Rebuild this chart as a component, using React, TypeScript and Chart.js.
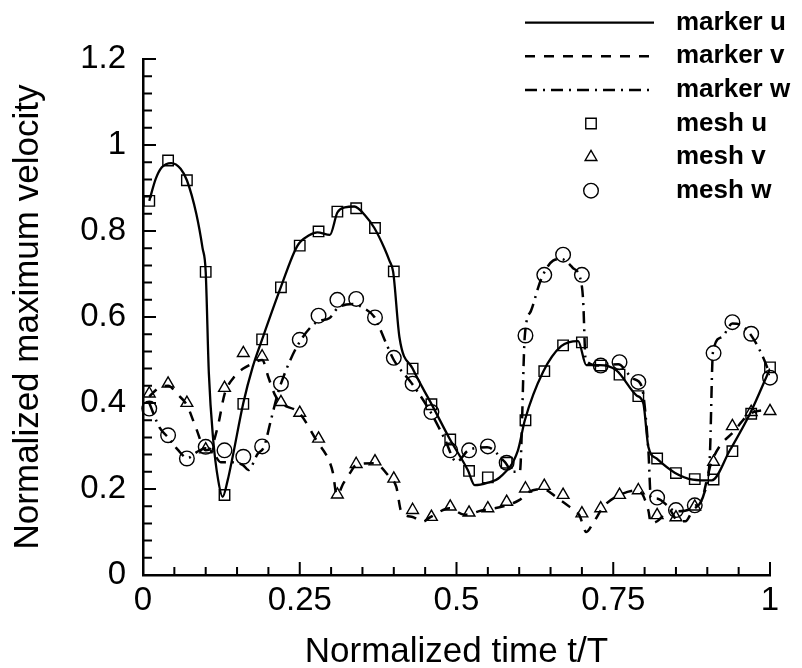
import React, { useEffect, useRef } from 'react';
import { Chart, registerables } from 'chart.js';

Chart.register(...registerables);

// ---- tick values / labels ----
const xMajorTicks = [0, 0.25, 0.5, 0.75, 1];
const xMinorTicks = [0.05, 0.1, 0.15, 0.2, 0.3, 0.35, 0.4, 0.45, 0.55, 0.6, 0.65, 0.7, 0.8, 0.85, 0.9, 0.95];
const xTickLabels = ['0', '0.25', '0.5', '0.75', '1'];
const yMajorTicks = [0, 0.2, 0.4, 0.6, 0.8, 1.0, 1.2];
const yMinorTicks = [0.04, 0.08, 0.12, 0.16, 0.24, 0.28, 0.32, 0.36, 0.44, 0.48, 0.52, 0.56, 0.64, 0.68, 0.72, 0.76, 0.84, 0.88, 0.92, 0.96, 1.04, 1.08, 1.12, 1.16];
const yTickLabels = ['0', '0.2', '0.4', '0.6', '0.8', '1', '1.2'];

// ---- mesh samples ----
const meshT = [0.01, 0.04, 0.07, 0.10, 0.13, 0.16, 0.19, 0.22, 0.25, 0.28, 0.31, 0.34, 0.37, 0.40, 0.43, 0.46, 0.49, 0.52, 0.55, 0.58, 0.61, 0.64, 0.67, 0.70, 0.73, 0.76, 0.79, 0.82, 0.85, 0.88, 0.91, 0.94, 0.97, 1.00];
const meshU = [0.870, 0.964, 0.918, 0.705, 0.186, 0.398, 0.548, 0.669, 0.766, 0.799, 0.845, 0.853, 0.807, 0.706, 0.480, 0.397, 0.315, 0.242, 0.227, 0.261, 0.360, 0.474, 0.534, 0.541, 0.487, 0.466, 0.416, 0.271, 0.237, 0.223, 0.222, 0.288, 0.375, 0.483];
const meshV = [0.422, 0.445, 0.400, 0.292, 0.435, 0.516, 0.508, 0.402, 0.377, 0.317, 0.187, 0.258, 0.264, 0.224, 0.151, 0.135, 0.159, 0.145, 0.155, 0.170, 0.201, 0.207, 0.186, 0.143, 0.155, 0.186, 0.197, 0.139, 0.134, 0.159, 0.263, 0.346, 0.379, 0.381];
const meshW = [0.387, 0.325, 0.271, 0.298, 0.290, 0.275, 0.299, 0.445, 0.547, 0.603, 0.640, 0.642, 0.599, 0.505, 0.445, 0.379, 0.290, 0.290, 0.299, 0.261, 0.557, 0.698, 0.745, 0.698, 0.487, 0.495, 0.449, 0.180, 0.151, 0.162, 0.516, 0.588, 0.561, 0.459];

// ---- marker curves ----
const markerUT = [0.010, 0.020, 0.030, 0.045, 0.060, 0.070, 0.085, 0.095, 0.100, 0.105, 0.112, 0.120, 0.127, 0.135, 0.143, 0.160, 0.175, 0.190, 0.220, 0.246, 0.265, 0.278, 0.298, 0.310, 0.322, 0.337, 0.355, 0.369, 0.385, 0.393, 0.399, 0.409, 0.430, 0.460, 0.489, 0.518, 0.529, 0.550, 0.569, 0.598, 0.609, 0.638, 0.667, 0.694, 0.707, 0.728, 0.755, 0.787, 0.798, 0.806, 0.819, 0.848, 0.877, 0.907, 0.936, 0.968, 1.000];
const markerUY = [0.870, 0.920, 0.948, 0.958, 0.945, 0.918, 0.840, 0.760, 0.705, 0.470, 0.314, 0.220, 0.182, 0.220, 0.275, 0.400, 0.484, 0.548, 0.670, 0.765, 0.790, 0.797, 0.791, 0.843, 0.855, 0.857, 0.835, 0.807, 0.760, 0.731, 0.705, 0.553, 0.480, 0.398, 0.317, 0.244, 0.209, 0.215, 0.227, 0.290, 0.360, 0.472, 0.532, 0.544, 0.488, 0.488, 0.476, 0.418, 0.399, 0.298, 0.271, 0.238, 0.222, 0.220, 0.290, 0.375, 0.480];

const markerVT = [0.010, 0.025, 0.040, 0.055, 0.070, 0.085, 0.100, 0.110, 0.120, 0.130, 0.145, 0.160, 0.175, 0.190, 0.200, 0.210, 0.220, 0.249, 0.278, 0.297, 0.303, 0.309, 0.320, 0.330, 0.340, 0.369, 0.393, 0.404, 0.412, 0.430, 0.446, 0.459, 0.489, 0.513, 0.540, 0.575, 0.600, 0.614, 0.638, 0.660, 0.680, 0.696, 0.707, 0.718, 0.735, 0.760, 0.790, 0.806, 0.810, 0.820, 0.840, 0.853, 0.865, 0.877, 0.891, 0.905, 0.920, 0.940, 0.968, 1.000];
const markerVY = [0.415, 0.435, 0.440, 0.420, 0.395, 0.340, 0.290, 0.300, 0.350, 0.420, 0.460, 0.480, 0.492, 0.500, 0.460, 0.420, 0.400, 0.377, 0.310, 0.265, 0.237, 0.186, 0.214, 0.237, 0.256, 0.260, 0.228, 0.205, 0.147, 0.135, 0.124, 0.135, 0.155, 0.140, 0.150, 0.160, 0.174, 0.192, 0.200, 0.180, 0.159, 0.139, 0.100, 0.121, 0.160, 0.186, 0.197, 0.150, 0.120, 0.125, 0.150, 0.125, 0.125, 0.151, 0.174, 0.255, 0.300, 0.330, 0.375, 0.385];

const markerWT = [0.010, 0.026, 0.040, 0.055, 0.071, 0.085, 0.100, 0.112, 0.124, 0.143, 0.160, 0.168, 0.183, 0.193, 0.204, 0.215, 0.228, 0.249, 0.278, 0.297, 0.310, 0.335, 0.353, 0.369, 0.388, 0.400, 0.429, 0.457, 0.481, 0.500, 0.519, 0.549, 0.577, 0.590, 0.601, 0.609, 0.619, 0.635, 0.654, 0.667, 0.685, 0.699, 0.702, 0.706, 0.728, 0.758, 0.782, 0.795, 0.806, 0.810, 0.819, 0.851, 0.880, 0.895, 0.904, 0.909, 0.923, 0.940, 0.955, 0.971, 0.990, 1.000];
const markerWY = [0.400, 0.344, 0.320, 0.292, 0.272, 0.285, 0.295, 0.285, 0.262, 0.262, 0.255, 0.244, 0.282, 0.298, 0.360, 0.422, 0.476, 0.540, 0.589, 0.597, 0.620, 0.630, 0.620, 0.600, 0.538, 0.500, 0.445, 0.383, 0.317, 0.263, 0.290, 0.297, 0.263, 0.240, 0.240, 0.557, 0.615, 0.688, 0.731, 0.735, 0.715, 0.680, 0.638, 0.500, 0.487, 0.490, 0.456, 0.440, 0.290, 0.180, 0.178, 0.148, 0.160, 0.190, 0.275, 0.518, 0.553, 0.585, 0.580, 0.555, 0.503, 0.465];

const seriesLabels = ['marker u', 'marker v', 'marker w', 'mesh u', 'mesh v', 'mesh w'];

const FONT = '"Liberation Sans", Arial, Helvetica, sans-serif';

const zip = (xs: number[], ys: number[]) => xs.map((x, i) => ({ x, y: ys[i] }));

function drawMarker(ctx: CanvasRenderingContext2D, style: string, x: number, y: number, r: number) {
  ctx.beginPath();
  if (style === 'rect') {
    const s = Math.SQRT1_2 * r;
    ctx.rect(x - s, y - s, 2 * s, 2 * s);
  } else if (style === 'triangle') {
    ctx.moveTo(x, y - r);
    ctx.lineTo(x + r * Math.sin((2 * Math.PI) / 3), y - r * Math.cos((2 * Math.PI) / 3));
    ctx.lineTo(x + r * Math.sin((4 * Math.PI) / 3), y - r * Math.cos((4 * Math.PI) / 3));
    ctx.closePath();
  } else {
    ctx.arc(x, y, r, 0, Math.PI * 2);
  }
  ctx.stroke();
}

const ticksPlugin = {
  id: 'innerTicks',
  afterDraw(chart: any) {
    const { ctx, chartArea, scales } = chart;
    const xs = scales.x;
    const ys = scales.y;
    ctx.save();
    ctx.strokeStyle = '#000';
    ctx.lineWidth = 2;
    ctx.setLineDash([]);
    ctx.beginPath();
    yMajorTicks.forEach((v) => {
      const p = ys.getPixelForValue(v);
      ctx.moveTo(chartArea.left, p);
      ctx.lineTo(chartArea.left + 13, p);
    });
    yMinorTicks.forEach((v) => {
      const p = ys.getPixelForValue(v);
      ctx.moveTo(chartArea.left, p);
      ctx.lineTo(chartArea.left + 9, p);
    });
    xMajorTicks.forEach((v) => {
      const p = xs.getPixelForValue(v);
      ctx.moveTo(p, chartArea.bottom);
      ctx.lineTo(p, chartArea.bottom - 13);
    });
    xMinorTicks.forEach((v) => {
      const p = xs.getPixelForValue(v);
      ctx.moveTo(p, chartArea.bottom);
      ctx.lineTo(p, chartArea.bottom - 8);
    });
    ctx.stroke();
    ctx.restore();
  },
};

const legendPlugin = {
  id: 'customLegend',
  afterDraw(chart: any) {
    const { ctx } = chart;
    const rowY0 = 22.7;
    const rowH = 33.6;
    const lineX0 = 525;
    const lineX1 = 654;
    const markX = 591;
    const textX = 676;
    ctx.save();
    chart.data.datasets.forEach((ds: any, i: number) => {
      const y = rowY0 + i * rowH;
      ctx.strokeStyle = '#000';
      if (ds.showLine) {
        ctx.lineWidth = ds.borderWidth;
        ctx.setLineDash(ds.borderDash || []);
        ctx.beginPath();
        ctx.moveTo(lineX0, y);
        ctx.lineTo(lineX1, y);
        ctx.stroke();
      } else {
        ctx.setLineDash([]);
        ctx.lineWidth = ds.pointBorderWidth;
        drawMarker(ctx, ds.pointStyle, markX, y, ds.pointRadius);
      }
      ctx.setLineDash([]);
      ctx.fillStyle = '#000';
      ctx.font = `bold 26px ${FONT}`;
      ctx.textAlign = 'left';
      ctx.textBaseline = 'middle';
      ctx.fillText(ds.label, textX, y);
    });
    ctx.restore();
  },
};

export default function App() {
  const ref = useRef<HTMLCanvasElement>(null);

  useEffect(() => {
    if (!ref.current) return;
    const lineBase = {
      showLine: true,
      pointRadius: 0,
      pointHoverRadius: 0,
      borderColor: '#000',
      backgroundColor: '#000',
      fill: false,
      cubicInterpolationMode: 'monotone' as const,
    };
    const pointBase = {
      showLine: false,
      clip: false,
      pointBackgroundColor: 'rgba(0,0,0,0)',
      pointBorderColor: '#000',
      borderColor: '#000',
      backgroundColor: 'rgba(0,0,0,0)',
      pointBorderWidth: 1.4,
    };
    const chart = new Chart(ref.current, {
      type: 'scatter',
      data: {
        datasets: [
          { ...lineBase, label: seriesLabels[0], data: zip(markerUT, markerUY), borderWidth: 2.3, borderDash: [] },
          { ...lineBase, label: seriesLabels[1], data: zip(markerVT, markerVY), borderWidth: 2.5, borderDash: [10, 9] },
          { ...lineBase, label: seriesLabels[2], data: zip(markerWT, markerWY), borderWidth: 2.5, borderDash: [12, 6, 2, 6] },
          { ...pointBase, label: seriesLabels[3], data: zip(meshT, meshU), pointStyle: 'rect', pointRadius: 7.4 },
          { ...pointBase, label: seriesLabels[4], data: zip(meshT, meshV), pointStyle: 'triangle', pointRadius: 6.8 },
          { ...pointBase, label: seriesLabels[5], data: zip(meshT, meshW), pointStyle: 'circle', pointRadius: 7.3 },
        ] as any,
      },
      options: {
        responsive: false,
        animation: false,
        events: [],
        layout: { padding: { top: 59, right: 32, left: 0, bottom: 0 } },
        plugins: {
          legend: { display: false },
          tooltip: { enabled: false },
        },
        scales: {
          x: {
            type: 'linear',
            min: 0,
            max: 1,
            afterFit: (s: any) => {
              s.height = 93;
            },
            grid: { display: false, drawTicks: false },
            border: { display: true, color: '#000', width: 2.5 },
            ticks: {
              stepSize: 0.25,
              autoSkip: false,
              maxRotation: 0,
              color: '#000',
              padding: 6,
              font: { family: FONT, size: 33 },
              callback: (_v: any, i: number) => xTickLabels[i],
            },
            title: {
              display: true,
              text: 'Normalized time t/T',
              color: '#000',
              font: { family: FONT, size: 35, lineHeight: 0.9 },
              padding: 0,
            },
          },
          y: {
            type: 'linear',
            min: 0,
            max: 1.2,
            afterFit: (s: any) => {
              s.width = 143;
            },
            grid: { display: false, drawTicks: false },
            border: { display: true, color: '#000', width: 2.5 },
            ticks: {
              stepSize: 0.2,
              autoSkip: false,
              color: '#000',
              padding: 17,
              font: { family: FONT, size: 33 },
              callback: (_v: any, i: number) => yTickLabels[i],
            },
            title: {
              display: true,
              text: 'Normalized maximum velocity',
              color: '#000',
              font: { family: FONT, size: 35, lineHeight: 1 },
              padding: { top: 11, bottom: 0 },
            },
          },
        },
      } as any,
      plugins: [ticksPlugin, legendPlugin],
    });
    return () => chart.destroy();
  }, []);

  return (
    <div style={{ position: 'fixed', left: 0, top: 0, width: 802, height: 668, background: '#fff' }}>
      <canvas ref={ref} width={802} height={668} style={{ width: 802, height: 668, display: 'block' }} />
    </div>
  );
}
